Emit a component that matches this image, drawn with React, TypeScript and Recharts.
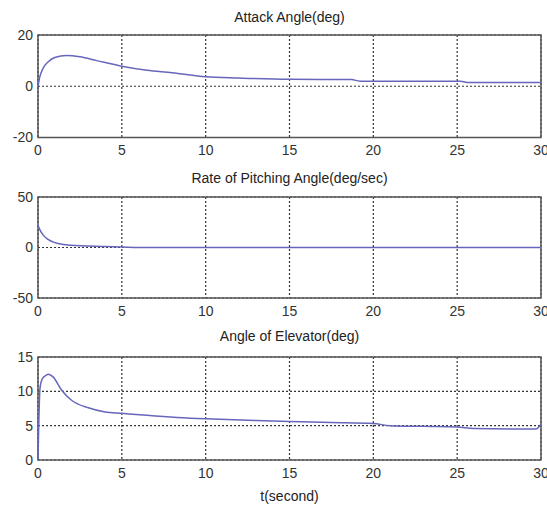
import React from "react";
import { LineChart, Line, XAxis, YAxis, CartesianGrid, ReferenceArea } from "recharts";

// ---- data ----
const xTicks = [0, 5, 10, 15, 20, 25, 30];

const attackT = [0, 0.1, 0.3, 0.6, 1, 1.7, 2.5, 3.5, 5, 6.5, 8, 10, 12, 15, 18.7, 19.2, 25.2, 25.6, 30];
const attackV = [0, 3.5, 7, 9.5, 11.2, 12, 11.5, 10, 7.8, 6.2, 5.3, 3.7, 3.2, 2.7, 2.6, 2.0, 2.0, 1.5, 1.5];
const attackTicks = [-20, 0, 20];

const pitchT = [0, 0.1, 0.3, 0.6, 1, 1.5, 2, 3, 4, 5, 6, 30];
const pitchV = [22, 18, 12.5, 8, 4.8, 3, 2.2, 1.4, 0.9, 0.5, 0, 0];
const pitchTicks = [-50, 0, 50];

const elevT = [0, 0.12, 0.25, 0.4, 0.62, 0.9, 1.4, 2, 3, 4, 5, 6.5, 8.3, 10, 12.5, 15, 17.5, 20, 21, 23, 25, 26, 29.7, 30];
const elevV = [0, 10.5, 11.8, 12.2, 12.5, 12.1, 10.2, 8.7, 7.6, 7.0, 6.8, 6.5, 6.2, 6.0, 5.8, 5.6, 5.45, 5.3, 5.0, 4.9, 4.8, 4.6, 4.5, 5.2];
const elevTicks = [0, 5, 10, 15];

const titles = ["Attack Angle(deg)", "Rate of Pitching Angle(deg/sec)", "Angle of Elevator(deg)"];
const xLabel = "t(second)";

const FONT = "'Liberation Sans', Arial, sans-serif";
const LINE = "#6666bc";

type PanelProps = {
  top: number;
  marginTop: number;
  marginBottom: number;
  t: number[];
  v: number[];
  yTicks: number[];
  title: string;
  titleY: number;
};

function Panel({ top, marginTop, marginBottom, t, v, yTicks, title, titleY }: PanelProps) {
  const data = t.map((x, i) => ({ t: x, v: v[i] }));
  const yMin = yTicks[0];
  const yMax = yTicks[yTicks.length - 1];
  return (
    <>
      <div
        style={{
          position: "absolute",
          left: 38,
          width: 503,
          top: titleY - 8,
          lineHeight: "16px",
          fontSize: 14,
          textAlign: "center",
          fontFamily: FONT,
          color: "#222",
        }}
      >
        {title}
      </div>
      <div style={{ position: "absolute", left: 0, top }}>
        <LineChart
          width={547}
          height={160}
          data={data}
          margin={{ top: marginTop, right: 6, left: 0, bottom: marginBottom }}
        >
          <CartesianGrid stroke="#333" strokeDasharray="2 2" strokeWidth={1.2} />
          <XAxis
            dataKey="t"
            type="number"
            domain={[0, 30]}
            ticks={xTicks}
            interval={0}
            height={20}
            axisLine={false}
            tickLine={false}
            tick={{ fill: "#333", fontSize: 14, fontFamily: FONT }}
          />
          <YAxis
            type="number"
            domain={[yMin, yMax]}
            ticks={yTicks}
            interval={0}
            width={38}
            axisLine={false}
            tickLine={false}
            tickSize={3}
            tickMargin={2}
            tick={{ fill: "#333", fontSize: 14, fontFamily: FONT }}
          />
          <ReferenceArea x1={0} x2={30} y1={yMin} y2={yMax} fill="none" fillOpacity={0} stroke="#555" strokeWidth={1.5} />
          <Line
            type="monotone"
            dataKey="v"
            stroke={LINE}
            strokeWidth={1.5}
            dot={false}
            isAnimationActive={false}
          />
        </LineChart>
      </div>
    </>
  );
}

export default function App() {
  return (
    <div
      style={{
        position: "absolute",
        left: 0,
        top: 0,
        width: 547,
        height: 505,
        background: "#fff",
        overflow: "hidden",
      }}
    >
      <Panel top={0} marginTop={35} marginBottom={2.5} t={attackT} v={attackV} yTicks={attackTicks} title={titles[0]} titleY={17} />
      <Panel top={160} marginTop={37} marginBottom={2} t={pitchT} v={pitchV} yTicks={pitchTicks} title={titles[1]} titleY={178} />
      <Panel top={320} marginTop={37} marginBottom={0} t={elevT} v={elevV} yTicks={elevTicks} title={titles[2]} titleY={336} />
      <div
        style={{
          position: "absolute",
          left: 38,
          width: 503,
          top: 488,
          lineHeight: "16px",
          fontSize: 14,
          textAlign: "center",
          fontFamily: FONT,
          color: "#222",
        }}
      >
        {xLabel}
      </div>
    </div>
  );
}
